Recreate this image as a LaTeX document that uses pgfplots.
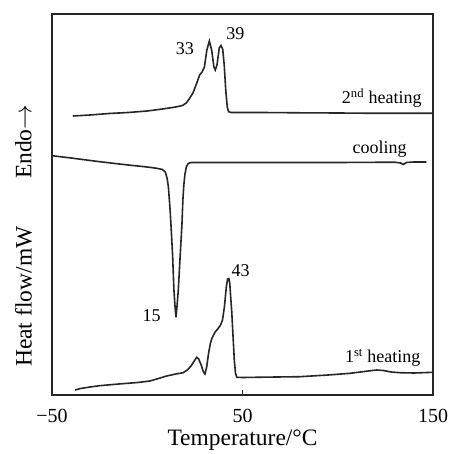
\documentclass[border=0pt]{standalone}
\usepackage{fontspec}
\setmainfont{Liberation Serif}
\usepackage{pgfplots}
\pgfplotsset{compat=1.18}

\begin{document}
\begin{tikzpicture}
\begin{axis}[
  scale only axis,
  width=381bp, height=381bp,
  xmin=-50, xmax=150, ymin=0, ymax=381,
  xtick={-50,50,150},
  xticklabels={−50,50,150},
  xtick pos=bottom,
  tick align=inside,
  major tick length=5bp,
  ytick=\empty,
  axis line style={line width=1.3bp, black!85},
  every tick/.style={line width=1.2bp, black!85},
  xticklabel style={font=\fontsize{20bp}{22bp}\selectfont, yshift=-11bp},
  clip=false,
]
% 2nd heating
\addplot[line width=1.6bp, black!85] coordinates {
(-39.1,279) (-30,280) (-20,281.5) (-10,282.5) (0,284) (8,286) (15,288) (18.5,289.5)
(20.5,292) (22,296) (24,302) (26,312) (27.5,320) (28.8,323) (30,328) (31.3,345)
(32.6,354) (33.8,345) (35.0,328) (35.7,325) (36.6,330) (37.8,347) (38.7,349.5)
(39.6,346) (40.4,330) (41.2,305) (42,288) (42.7,283.3) (44,282.5) (60,282.5)
(80,282.2) (100,282) (120,281.7) (149.5,281.7)
};
% cooling
\addplot[line width=1.6bp, black!85] coordinates {
(-50,239.3) (-40,237) (-25,233.3) (-10,230) (0,228) (5,226.7) (8,225.5) (9.5,223)
(10.5,216) (11.1,208) (12.0,185) (12.6,165) (13.3,140) (14.0,105) (14.6,88)
(15.1,77.7) (15.6,88) (16.3,105) (17.3,140) (18.2,170) (18.7,195) (19.2,210)
(19.8,221) (20.5,228) (21.5,231.5) (23,232.5) (30,232.5) (60,232.5) (100,232.5)
(130,232.8) (133,232) (134.4,230.5) (136,232.5) (140,233) (146.5,233)
};
% 1st heating
\addplot[line width=1.6bp, black!85] coordinates {
(-37.9,5) (-35,6.5) (-30,8) (-25,9.3) (-15,11) (-5,12.5) (1.4,14) (5,16) (10.2,19)
(15,21) (18.9,22.3) (21,25) (23,29) (25,35) (26,37.7) (27,36) (28.5,29) (29.5,23)
(30.3,21) (31.2,28) (32.2,42) (33.2,52) (34,57) (35.6,63) (37,66) (38.5,70)
(39.5,75) (40.5,88) (41.5,108) (42.2,116) (42.8,116.5) (43.3,112) (43.8,98)
(44.3,85) (45,60) (45.7,35) (46.3,22) (47,17.7) (50,17.5) (60,17.8) (80,18.3)
(95,20) (106.4,21.7) (112,23) (116,24) (120.4,25) (124,24.5) (128,23) (132.7,22.3)
(140,22) (150,22.7)
};
% peak temperatures and curve names
\begin{scope}[every node/.style={font=\fontsize{18bp}{20bp}\selectfont, inner sep=0pt}]
\node at (axis cs:19.8,346.7) {33};
\node at (axis cs:46.3,361.7) {39};
\node[anchor=base] at (axis cs:2.3,73.3) {15};
\node[anchor=base] at (axis cs:49,119) {43};
\node[anchor=base east] at (axis cs:144.1,291.7) {2\textsuperscript{nd} heating};
\node[anchor=base east] at (axis cs:136.2,241) {cooling};
\node[anchor=base east] at (axis cs:143.5,32.3) {1\textsuperscript{st} heating};
\end{scope}
% axis titles
\begin{scope}[every node/.style={font=\fontsize{23.5bp}{25bp}\selectfont, inner sep=0pt}]
\node at (axis cs:50,-45.5) {Temperature/°C};
\node[rotate=90] at (axis cs:-65,253.3) {Endo$\rightarrow$};
\node[rotate=90] at (axis cs:-65,98.3) {Heat flow/mW};
\end{scope}
\end{axis}
\pgfresetboundingbox
\path ([shift={(-52bp,-59bp)}]current axis.south west)
  rectangle ([shift={(16bp,14bp)}]current axis.north east);
\end{tikzpicture}
\end{document}
